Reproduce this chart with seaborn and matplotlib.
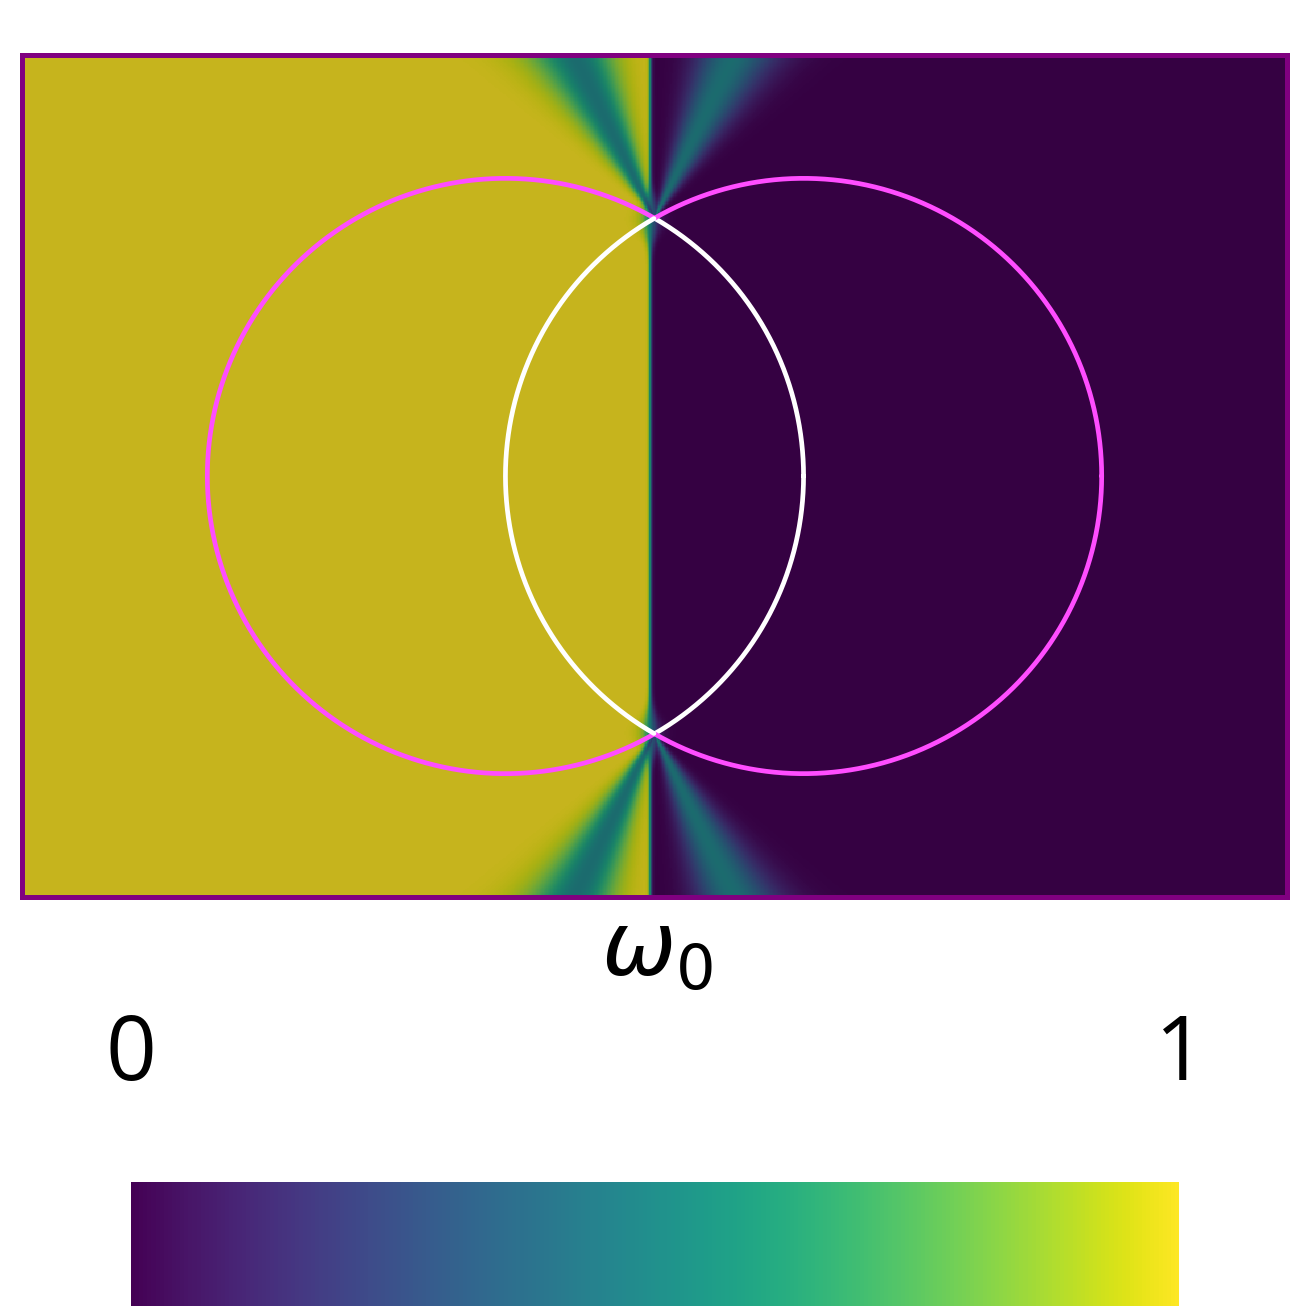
import numpy as np
import matplotlib as mpl
import matplotlib.pyplot as plt
import seaborn as sns
from matplotlib.colors import ListedColormap, Normalize

sns.set_theme(style="white")
plt.rcParams['font.family'] = ['Open Sans', 'DejaVu Sans']
plt.rcParams['text.color'] = 'black'

# geometry of the domain and the two circles
x_range = [-3.0, 3.0]
y_range = [-2.0, 2.0]
circle_centers = [-0.707, 0.707]
circle_radius = 1.414

# the field: 1 on the left, 0 on the right, with two fans at each crossing
interface_x = -0.02
band_angle_deg = 26.0
band_spread_deg = 11.0
band_peak = 0.47
interface_width = 0.009
shade = 0.78

cbar_labels = ["0", "1"]
title = r"$\omega_0$"

# grid for the field
nx, ny = 960, 640
xs = np.linspace(x_range[0], x_range[1], nx)
ys = np.linspace(y_range[1], y_range[0], ny)
X, Y = np.meshgrid(xs, ys)

y_cross = np.sqrt(circle_radius**2 - circle_centers[1]**2)
dy = np.abs(Y) - y_cross
outside = (dy > 0).astype(float)
# interface gets a bit softer right at the crossing points
w = interface_width + 0.035 * np.exp(-(dy / 0.1)**2)
step = 0.5 - 0.5 * np.tanh((X - interface_x) / w)
theta = np.degrees(np.arctan2(X, np.abs(dy) + 1e-9))
g_left = np.exp(-((theta + band_angle_deg) / band_spread_deg)**2) * outside
g_right = np.exp(-((theta - band_angle_deg) / band_spread_deg)**2) * outside
field = step * (1 - (1 - band_peak) * g_left) + (1 - step) * band_peak * g_right

dim_cmap = ListedColormap(np.array(sns.color_palette("viridis", 256)) * shade)

fig = plt.figure(figsize=(13.1, 13.1), dpi=100)
pos = [22 / 1310, 1 - 897 / 1310, 1265 / 1310, 842 / 1310]
ax = fig.add_axes(pos)
sns.heatmap(field, ax=ax, cmap=dim_cmap, vmin=0, vmax=1, cbar=False,
            xticklabels=False, yticklabels=False, rasterized=True)

# overlay with data coordinates for circles and border
ax2 = fig.add_axes(pos)
ax2.set_xlim(x_range)
ax2.set_ylim(y_range)
ax2.patch.set_alpha(0)
ax2.set_xticks([])
ax2.set_yticks([])
for s in ax2.spines.values():
    s.set_visible(True)
    s.set_color('#800080')
    s.set_linewidth(3.6)

t = np.linspace(0, 2 * np.pi, 2000)
for i, cx in enumerate(circle_centers):
    other = circle_centers[1 - i]
    px = cx + circle_radius * np.cos(t)
    py = circle_radius * np.sin(t)
    inside = (px - other)**2 + py**2 < circle_radius**2
    ax2.plot(np.where(inside, np.nan, px), py, color='#FF4DFF', lw=3.4)
    ax2.plot(np.where(inside, px, np.nan), py, color='white', lw=3.4)

# colour bar
cax = fig.add_axes([131 / 1310, 1 - 1306 / 1310, 1048 / 1310, 124 / 1310])
cb = fig.colorbar(mpl.cm.ScalarMappable(norm=Normalize(0, 1), cmap='viridis'),
                  cax=cax, orientation='horizontal')
cb.outline.set_visible(False)
cb.set_ticks([])

fig.text(131 / 1310, 1 - 1080 / 1310, cbar_labels[0], ha='center', va='baseline', fontsize=64)
fig.text(1180 / 1310, 1 - 1080 / 1310, cbar_labels[1], ha='center', va='baseline', fontsize=64)
fig.text(657 / 1310, 1 - 975 / 1310, title, ha='center', va='baseline', fontsize=64)

fig.savefig("out.png", dpi=100)
